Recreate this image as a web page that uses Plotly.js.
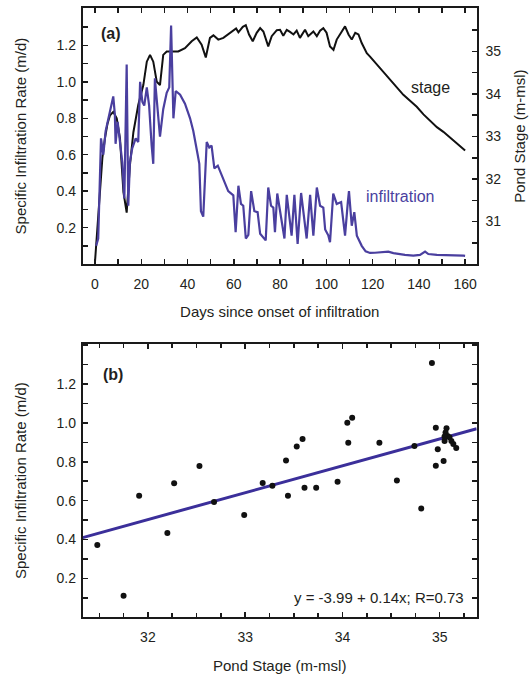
<!DOCTYPE html>
<html>
<head>
<meta charset="utf-8">
<script src="https://cdn.plot.ly/plotly-3.0.1.min.js"></script>
<style>html,body{margin:0;padding:0;background:#fff;}#chart{width:532px;height:677px;}</style>
</head>
<body>
<div id="chart"></div>
<script>
// Panel (a): pond stage time series (m-msl)
const stageDays = [0, 1, 2.2, 3.2, 4.3, 5.4, 6.5, 7.9, 9.4, 10.8, 12.3, 13.7, 15.1, 16.6, 18.7, 20.9, 22.4, 23.8, 25.2, 26.7, 28.1, 29.5, 31, 33, 36, 38.9, 41.8, 44, 46.1, 47.9, 49.7, 51.2, 53.3, 55.5, 57.6, 59.8, 61, 62, 63.9, 65.2, 66.6, 68.2, 69.9, 71.4, 72.8, 74.9, 76.4, 78.6, 80, 81.4, 82.9, 84.3, 85.8, 87.2, 88.6, 90.8, 92.2, 94.4, 95.9, 97.3, 98.7, 100.1, 101.6, 103.1, 104.5, 106.7, 108.1, 109.6, 111, 112.5, 113.9, 115.3, 117.5, 118.9, 121, 123.2, 125.5, 127.6, 130.5, 133.3, 136.2, 139.1, 142, 144.9, 147.8, 150.6, 153.5, 156.4, 158.5, 160];
const stageVals = [30.05, 30.9, 31.84, 32.5, 32.96, 33.3, 33.5, 33.58, 33.43, 32.96, 31.69, 31.21, 32.32, 33.1, 33.74, 34.21, 34.76, 34.92, 34.76, 34.29, 34.21, 34.92, 35.0, 35.0, 35.0, 35.08, 35.24, 35.33, 35.16, 34.86, 35.32, 35.38, 35.28, 35.32, 35.4, 35.5, 35.54, 35.45, 35.58, 35.62, 35.4, 35.24, 35.44, 35.55, 35.47, 35.12, 35.36, 35.5, 35.51, 35.37, 35.51, 35.46, 35.4, 35.49, 35.32, 35.51, 35.36, 35.47, 35.36, 35.49, 35.55, 35.44, 35.12, 35.04, 35.28, 35.47, 35.59, 35.4, 35.28, 35.44, 35.4, 35.2, 34.96, 34.88, 34.75, 34.61, 34.47, 34.33, 34.15, 33.98, 33.84, 33.70, 33.52, 33.36, 33.22, 33.11, 32.97, 32.83, 32.74, 32.67];

// Panel (a): specific infiltration rate time series (m/d)
const infilDays = [0.5, 1.4, 2.6, 3.6, 4.6, 6.1, 7.9, 8.6, 8.9, 9.8, 10.8, 11.8, 12.7, 13.7, 14.4, 15.1, 16.1, 17.6, 18.7, 19.5, 20.5, 21.3, 22.4, 23.4, 24.5, 25.2, 25.9, 28.1, 29.5, 31, 32.1, 32.9, 33.9, 34.9, 36.8, 38.9, 41.1, 42.5, 44.4, 45.1, 45.8, 46.8, 48.3, 49.4, 50.4, 51.6, 53.1, 55.5, 57.6, 59.8, 60.8, 62, 63.1, 64.1, 65.2, 66.3, 67.5, 68.9, 70.3, 71.4, 73.8, 74.9, 76.1, 77.1, 77.8, 78.8, 80.7, 81.9, 82.9, 85, 86.2, 87.6, 89.1, 91.5, 93, 94.4, 95.9, 97.3, 98.7, 99.5, 100.9, 101.6, 103, 104.5, 106.4, 108.1, 109.3, 109.8, 111, 112.1, 113.2, 115.3, 117, 118.9, 121, 124, 126.8, 129, 131.2, 134, 137.6, 140.5, 142.7, 144.1, 147.8, 152.1, 156.4, 159.3, 160];
const infilVals = [0.10, 0.14, 0.69, 0.60, 0.73, 0.82, 0.92, 0.82, 0.66, 0.78, 0.65, 0.56, 0.36, 1.096, 0.32, 0.56, 0.635, 0.69, 0.67, 1.0, 0.89, 0.87, 0.97, 0.87, 0.65, 0.55, 1.02, 0.70, 0.85, 0.94, 0.97, 1.31, 0.80, 0.95, 0.93, 0.88, 0.80, 0.73, 0.60, 0.55, 0.29, 0.26, 0.67, 0.64, 0.65, 0.525, 0.54, 0.47, 0.40, 0.377, 0.175, 0.43, 0.33, 0.32, 0.14, 0.16, 0.40, 0.29, 0.285, 0.166, 0.13, 0.42, 0.32, 0.31, 0.175, 0.387, 0.25, 0.14, 0.38, 0.156, 0.38, 0.11, 0.39, 0.14, 0.38, 0.156, 0.42, 0.32, 0.31, 0.19, 0.156, 0.12, 0.387, 0.33, 0.34, 0.156, 0.34, 0.40, 0.21, 0.285, 0.156, 0.10, 0.07, 0.061, 0.062, 0.064, 0.068, 0.06, 0.055, 0.05, 0.046, 0.05, 0.068, 0.055, 0.05, 0.05, 0.046, 0.046, 0.045];

// Panel (b): infiltration rate vs pond stage
const pondStage = [31.48, 31.75, 31.91, 32.20, 32.27, 32.53, 32.68, 32.99, 33.18, 33.28, 33.42, 33.44, 33.53, 33.59, 33.61, 33.73, 33.95, 34.05, 34.10, 34.06, 34.38, 34.56, 34.74, 34.81, 34.92, 34.96, 34.98, 34.96, 35.04, 35.05, 35.07, 35.06, 35.08, 35.10, 35.12, 35.14, 35.17, 35.05];
const infilRate = [0.372, 0.111, 0.625, 0.433, 0.689, 0.778, 0.593, 0.526, 0.691, 0.677, 0.806, 0.625, 0.878, 0.917, 0.667, 0.667, 0.697, 1.001, 1.027, 0.898, 0.898, 0.704, 0.881, 0.560, 1.308, 0.975, 0.864, 0.780, 0.804, 0.907, 0.972, 0.950, 0.933, 0.926, 0.907, 0.891, 0.871, 0.930];

// Fitted line endpoints as drawn: y = -3.99 + 0.14x
const fitX = [31.33, 35.38];
const fitY = [0.41, 0.97];

const FONT = 'Liberation Sans, Arial, Helvetica, sans-serif';
const TXT = '#231f20';
const BLUE = '#4a3f9f';
const FRAME = '#1a1a1a';

const traces = [
  {x: stageDays, y: stageVals, type: 'scatter', mode: 'lines', xaxis: 'x', yaxis: 'y',
   line: {color: '#111', width: 2}, hoverinfo: 'skip', showlegend: false},
  {x: infilDays, y: infilVals, type: 'scatter', mode: 'lines', xaxis: 'x3', yaxis: 'y2',
   line: {color: BLUE, width: 2.2}, hoverinfo: 'skip', showlegend: false},
  {x: fitX, y: fitY, type: 'scatter', mode: 'lines', xaxis: 'x2', yaxis: 'y3',
   line: {color: '#3b2f9a', width: 3}, showlegend: false},
  {x: pondStage, y: infilRate, type: 'scatter', mode: 'markers', xaxis: 'x2', yaxis: 'y3',
   marker: {color: '#111', size: 6}, showlegend: false}
];

const axBase = {
  showgrid: false, zeroline: false, showline: true, linecolor: FRAME, linewidth: 2,
  ticks: 'inside', ticklen: 5, tickwidth: 1.5, tickcolor: FRAME,
  tickfont: {family: FONT, size: 14, color: TXT}
};
const titleFont = {family: FONT, size: 15, color: TXT};

const layout = {
  width: 532, height: 677,
  margin: {l: 0, r: 0, t: 0, b: 0},
  paper_bgcolor: '#fff', plot_bgcolor: '#fff',
  font: {family: FONT, color: TXT, size: 14},
  xaxis: Object.assign({}, axBase, {
    domain: [0.1555, 0.896], anchor: 'y', range: [-5.3, 165],
    tickmode: 'array', tickvals: [0, 20, 40, 60, 80, 100, 120, 140, 160], ticklabelstandoff: 6,
    minor: {dtick: 10, tick0: 0, ticks: 'inside', ticklen: 5, tickcolor: FRAME, tickwidth: 1.5},
    title: {text: 'Days since onset of infiltration', font: titleFont, standoff: 16}
  }),
  xaxis3: Object.assign({}, axBase, {
    domain: [0.1555, 0.896], anchor: 'y2', overlaying: 'x', side: 'top', range: [-5.3, 165],
    showticklabels: false, tickmode: 'linear', tick0: 0, dtick: 10
  }),
  yaxis: Object.assign({}, axBase, {
    domain: [0.610, 0.988], anchor: 'x', side: 'right', range: [30, 36.02],
    tickmode: 'array', tickvals: [31, 32, 33, 34, 35], ticklabelstandoff: 4,
    minor: {dtick: 0.5, tick0: 0, ticks: 'inside', ticklen: 5, tickcolor: FRAME, tickwidth: 1.5},
    title: {text: 'Pond Stage (m-msl)', font: titleFont, standoff: 14}
  }),
  yaxis2: Object.assign({}, axBase, {
    domain: [0.610, 0.988], anchor: 'x3', overlaying: 'y', side: 'left', range: [0, 1.405],
    tickmode: 'array', tickvals: [0.2, 0.4, 0.6, 0.8, 1.0, 1.2], ticktext: ['0.2','0.4','0.6','0.8','1.0','1.2'],
    ticklabelstandoff: 2,
    minor: {dtick: 0.1, tick0: 0, ticks: 'inside', ticklen: 5, tickcolor: FRAME, tickwidth: 1.5},
    title: {text: 'Specific Infiltration Rate (m/d)', font: titleFont, standoff: 26}
  }),
  xaxis2: Object.assign({}, axBase, {
    domain: [0.1555, 0.896], anchor: 'y3', range: [31.33, 35.38], mirror: 'ticks',
    tickmode: 'array', tickvals: [32, 33, 34, 35], ticklabelstandoff: 6,
    minor: {dtick: 0.25, tick0: 0, ticks: 'inside', ticklen: 4, tickcolor: FRAME, tickwidth: 1.5},
    title: {text: 'Pond Stage (m-msl)', font: titleFont, standoff: 16}
  }),
  yaxis3: Object.assign({}, axBase, {
    domain: [0.0882, 0.4919], anchor: 'x2', range: [0, 1.406], mirror: 'ticks',
    tickmode: 'array', tickvals: [0.2, 0.4, 0.6, 0.8, 1.0, 1.2], ticktext: ['0.2','0.4','0.6','0.8','1.0','1.2'],
    ticklabelstandoff: 2,
    minor: {dtick: 0.1, tick0: 0, ticks: 'inside', ticklen: 5, tickcolor: FRAME, tickwidth: 1.5},
    title: {text: 'Specific Infiltration Rate (m/d)', font: titleFont, standoff: 26}
  }),
  annotations: [
    {text: '<b>(a)</b>', xref: 'paper', yref: 'paper', x: 111/532, y: 1 - 34/677, showarrow: false,
     font: {family: FONT, size: 16, color: TXT}, xanchor: 'center', yanchor: 'middle'},
    {text: '<b>(b)</b>', xref: 'paper', yref: 'paper', x: 113/532, y: 1 - 374/677, showarrow: false,
     font: {family: FONT, size: 16, color: TXT}, xanchor: 'center', yanchor: 'middle'},
    {text: 'stage', xref: 'paper', yref: 'paper', x: 430/532, y: 1 - 87/677, showarrow: false,
     font: {family: FONT, size: 16, color: TXT}, xanchor: 'center', yanchor: 'middle'},
    {text: 'infiltration', xref: 'paper', yref: 'paper', x: 400/532, y: 1 - 197/677, showarrow: false,
     font: {family: FONT, size: 16, color: BLUE}, xanchor: 'center', yanchor: 'middle'},
    {text: 'y = -3.99 + 0.14x; R=0.73', xref: 'paper', yref: 'paper', x: 466/532, y: 1 - 597/677, showarrow: false,
     font: {family: FONT, size: 15, color: TXT}, xanchor: 'right', yanchor: 'middle'}
  ]
};

Plotly.newPlot('chart', traces, layout, {displayModeBar: false, staticPlot: true});
</script>
</body>
</html>
